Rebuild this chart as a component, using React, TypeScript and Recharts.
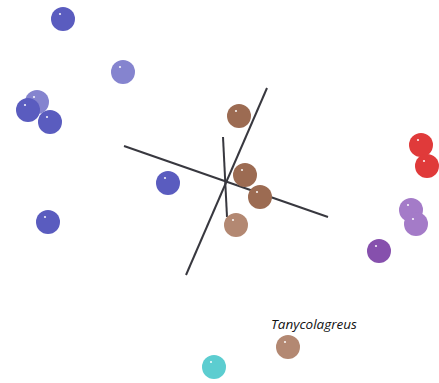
import React from "react";
import {
  ScatterChart,
  Scatter,
  XAxis,
  YAxis,
  ReferenceLine,
  LabelList,
} from "recharts";

// positions (projected scores)
const blueX = [63, 28, 50, 168, 48];
const blueY = [19, 110, 122, 183, 222];
const paleBlueX = [123, 37];
const paleBlueY = [72, 102];
const brownX = [239, 245, 260];
const brownY = [116, 175, 197];
const tanX = [236, 288];
const tanY = [225, 347];
const tanNames = ["", "Tanycolagreus"];
const redX = [421, 427];
const redY = [145, 166];
const lilacX = [411, 416];
const lilacY = [210, 224];
const purpleX = [379];
const purpleY = [251];
const cyanX = [214];
const cyanY = [367];

// projected axis lines
const axisLines = [
  [124, 146, 328, 217],
  [267, 88, 186, 275],
  [223, 137, 227, 217],
];

const zip = (xs: number[], ys: number[], names?: string[]) =>
  xs.map((x, i) => ({ x, y: ys[i], name: names ? names[i] : "" }));

const Ball = (props: any) => {
  const { cx, cy, fill } = props;
  if (cx == null || cy == null) return null;
  return (
    <g>
      <circle cx={cx} cy={cy} r={12} fill={fill} />
      <circle cx={cx - 3} cy={cy - 5} r={1.1} fill="#ffffff" opacity={0.9} />
    </g>
  );
};

// species name sits up and to the right of its ball
const NameLabel = (props: any) => {
  const { x, y, width, value } = props;
  if (!value) return null;
  return (
    <text
      x={x + width / 2 + 26}
      y={y - 13}
      textAnchor="middle"
      fontFamily="'Open Sans', sans-serif"
      fontStyle="italic"
      fontSize={13.5}
      fill="#111"
    >
      {value}
    </text>
  );
};

const groups = [
  { key: "paleBlue", data: zip(paleBlueX, paleBlueY), color: "#8584cf" },
  { key: "blue", data: zip(blueX, blueY), color: "#5a5cbf" },
  { key: "red", data: zip(redX, redY), color: "#e03a3a" },
  { key: "lilac", data: zip(lilacX, lilacY), color: "#a47bc8" },
  { key: "purple", data: zip(purpleX, purpleY), color: "#8650ad" },
  { key: "cyan", data: zip(cyanX, cyanY), color: "#5ccdd0" },
];

export default function App() {
  return (
    <div style={{ position: "absolute", left: 0, top: 0, background: "#fff" }}>
      <ScatterChart width={439} height={383} margin={{ top: 0, right: 0, bottom: 0, left: 0 }}>
        <XAxis type="number" dataKey="x" domain={[0, 439]} hide />
        <YAxis type="number" dataKey="y" domain={[0, 383]} reversed hide />
        {axisLines.map((l, i) => (
          <ReferenceLine
            key={`axis-${i}`}
            segment={[
              { x: l[0], y: l[1] },
              { x: l[2], y: l[3] },
            ]}
            stroke="#38383f"
            strokeWidth={2}
            ifOverflow="visible"
          />
        ))}
        {groups.map((g) => (
          <Scatter
            key={g.key}
            data={g.data}
            fill={g.color}
            shape={<Ball />}
            isAnimationActive={false}
          />
        ))}
        <Scatter data={zip(brownX, brownY)} fill="#9c6b52" shape={<Ball />} isAnimationActive={false} />
        <Scatter data={zip(tanX, tanY, tanNames)} fill="#b38872" shape={<Ball />} isAnimationActive={false}>
          <LabelList dataKey="name" content={<NameLabel />} />
        </Scatter>
      </ScatterChart>
    </div>
  );
}
